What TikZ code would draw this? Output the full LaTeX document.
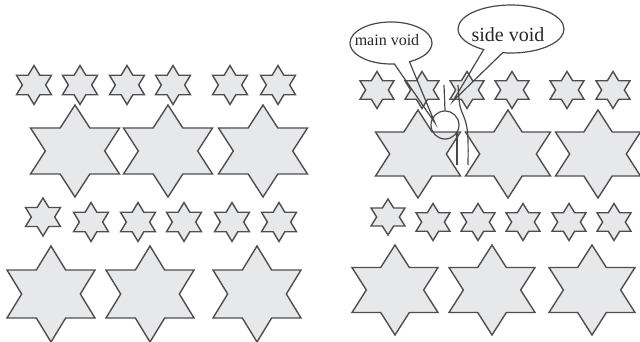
\documentclass[tikz,border=0pt]{standalone}
\usepackage{fontspec}
\setmainfont{Liberation Serif}
\usetikzlibrary{shapes.callouts}

\definecolor{starfill}{HTML}{E7E8EA}
\definecolor{starline}{HTML}{4E4E50}
\definecolor{markline}{HTML}{48484A}

% six-pointed star, points up and down: centre (#1,#2), half-width #3, half-height #4
\newcommand{\hexstar}[4]{%
  \draw[starshape] (#1,#2) ++(0,-#4)
    -- ++(#3/3,#4/2) -- ++(2*#3/3,0) -- ++(-#3/3,#4/2)
    -- ++(#3/3,#4/2) -- ++(-2*#3/3,0) -- ++(-#3/3,#4/2)
    -- ++(-#3/3,-#4/2) -- ++(-2*#3/3,0) -- ++(#3/3,-#4/2)
    -- ++(-#3/3,-#4/2) -- ++(2*#3/3,0) -- cycle;}

\begin{document}
\begin{tikzpicture}[x=1pt,y=-1pt,
  starshape/.style={fill=starfill,draw=starline,line width=1.4pt,line join=miter},
  markstroke/.style={draw=markline,line width=1.2pt},
  bubble/.style={ellipse callout,markstroke,inner sep=0pt,outer sep=0pt,callout pointer arc=22},
  bubbletext/.style={inner sep=0pt,text=black!85}]
\useasboundingbox (0,0) rectangle (640,342);

% ---- left panel ----
\foreach \cx in {34,80,127,173,230,278} {\hexstar{\cx}{85}{17.5}{19.5}}
\foreach \cx in {75,168,263} {\hexstar{\cx}{151}{44.5}{46}}
\hexstar{43}{217}{17.5}{19}
\foreach \cx in {91,138,184,232,279} {\hexstar{\cx}{222}{17.5}{19.5}}
\foreach \cx in {51,150,257} {\hexstar{\cx}{294}{44}{48}}

% ---- right panel ----
\foreach \cx in {377,422,467,512,567,613} {\hexstar{\cx}{90}{17}{18.5}}
\foreach \cx in {418,508,598} {\hexstar{\cx}{154}{42.5}{44}}
\hexstar{388}{217}{17}{18}
\foreach \cx in {433,478,523,569,614} {\hexstar{\cx}{222}{17}{18.5}}
\foreach \cx in {395,492,592} {\hexstar{\cx}{290}{43}{45}}

% main void: small ring between the stars
\node[circle,markstroke,minimum size=28pt,inner sep=0pt] (mainring) at (445,125) {};
% side void: walls of the narrow gap
\draw[markstroke] (444,85) -- (mainring.north);
\draw[markstroke] (457,132) -- (457,165);
\draw[markstroke] plot[smooth,tension=0.6] coordinates {(458,85) (460,106) (466,123) (468,140) (468,165)};

% labels
\node[bubble,minimum width=82pt,minimum height=42pt,
      callout absolute pointer={(435,123)}] (mainbubble) at (391,43) {};
\node[bubbletext,font=\fontsize{16}{16}\selectfont] (maintext) at (387,40) {main void};
\node[bubble,minimum width=106pt,minimum height=48pt,
      callout absolute pointer={(453,101)}] (sidebubble) at (511,29) {};
\node[bubbletext,font=\fontsize{20}{20}\selectfont] (sidetext) at (508,35) {side void};
\end{tikzpicture}
\end{document}
